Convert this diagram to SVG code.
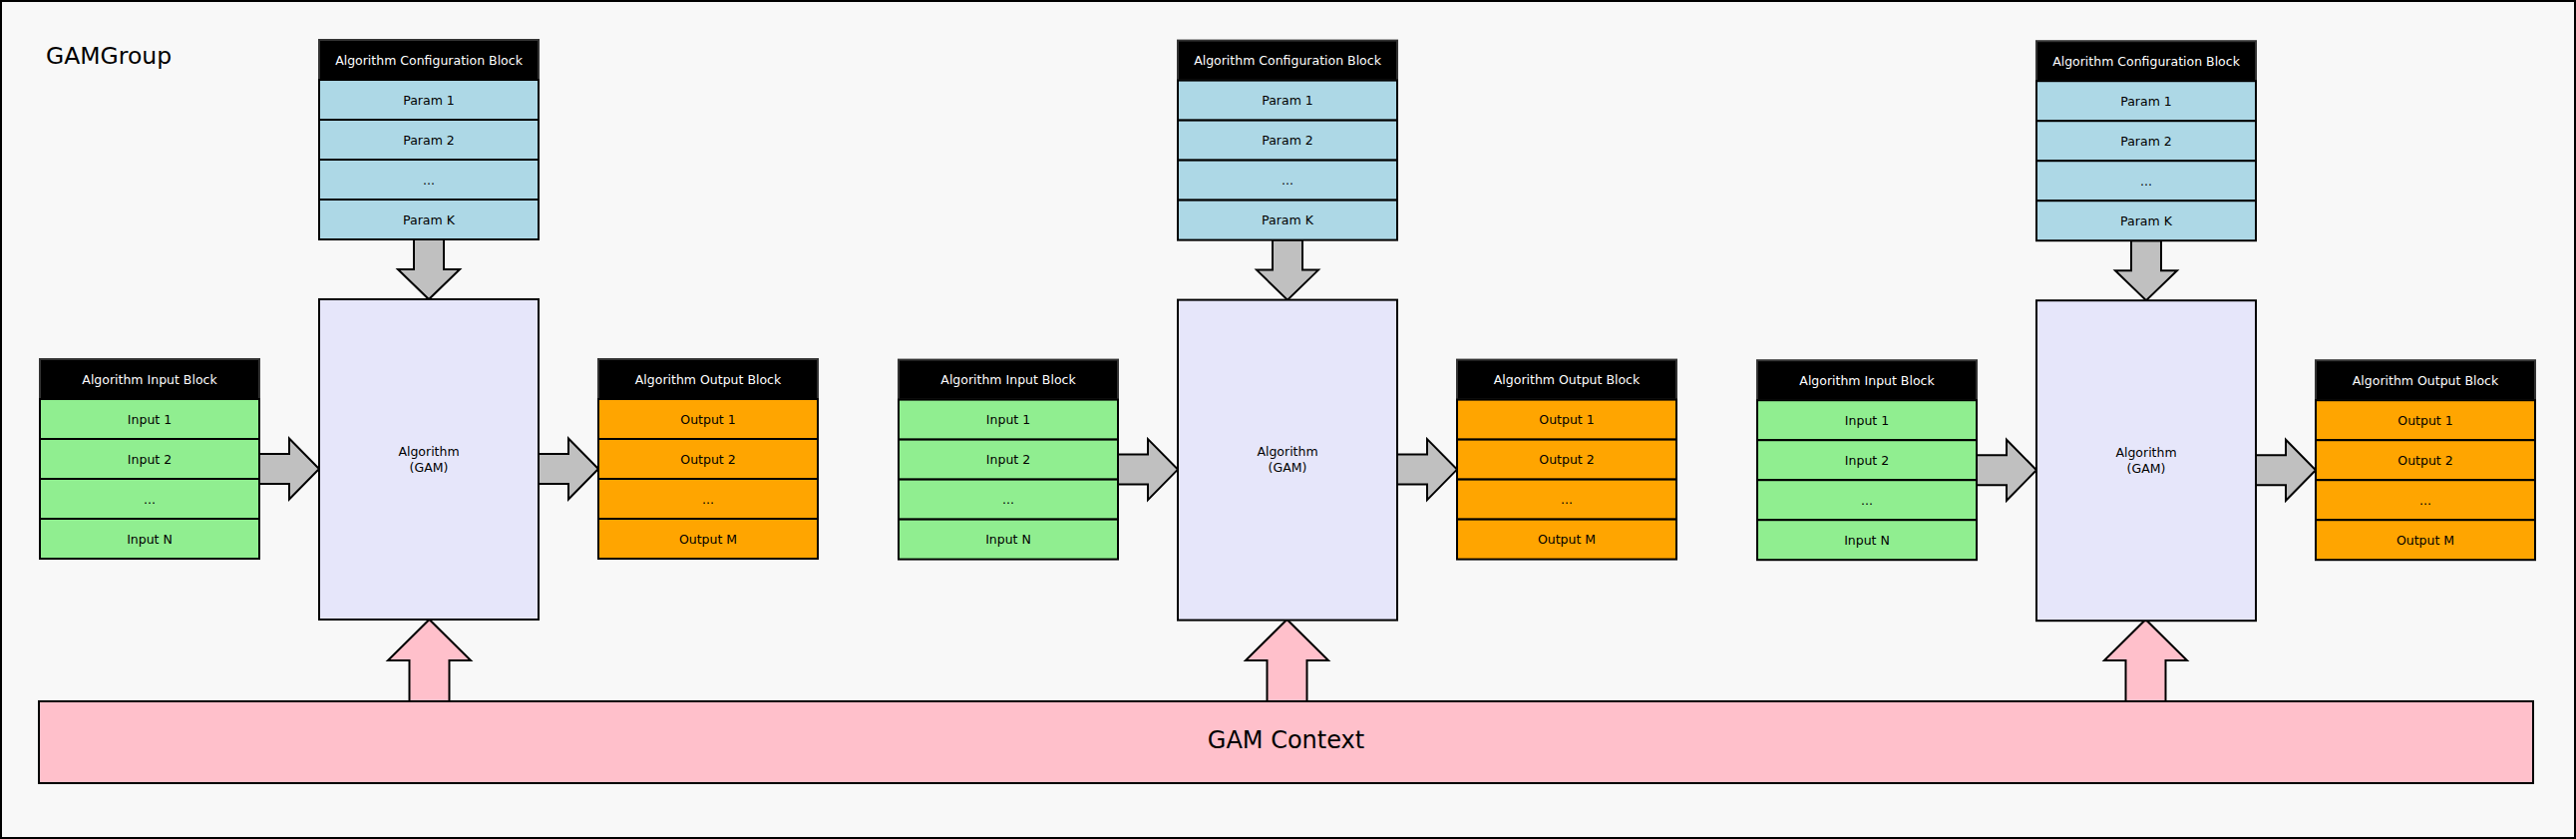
<svg xmlns="http://www.w3.org/2000/svg" width="2583" height="841" viewBox="0 0 2583 841">
<style>
text{font-family:"DejaVu Sans","Liberation Sans",sans-serif;text-anchor:middle;dominant-baseline:central}
.t{font-size:12.5px;fill:#000}
.h{fill:#000;stroke:#333;stroke-width:2}
.ht{font-size:12.5px;fill:#fff}
.cfg{fill:#add8e6;stroke:#000;stroke-width:2}
.in{fill:#90ee90;stroke:#000;stroke-width:2}
.out{fill:#ffa500;stroke:#000;stroke-width:2}
.alg{fill:#e6e6fa;stroke:#000;stroke-width:2}
.ctx{fill:#ffc0cb;stroke:#000;stroke-width:2}
.ga{fill:#c0c0c0;stroke:#000;stroke-width:2;stroke-linejoin:miter}
.pa{fill:#ffc0cb;stroke:#000;stroke-width:2;stroke-linejoin:miter}
</style>
<defs>
<g id="cfgBlock">
<rect class="h" x="320" y="40" width="220" height="40"/>
<text class="ht" x="430" y="60">Algorithm Configuration Block</text>
<rect class="cfg" x="320" y="80" width="220" height="40"/>
<text class="t" x="430" y="100">Param 1</text>
<rect class="cfg" x="320" y="120" width="220" height="40"/>
<text class="t" x="430" y="140">Param 2</text>
<rect class="cfg" x="320" y="160" width="220" height="40"/>
<text class="t" x="430" y="180">...</text>
<rect class="cfg" x="320" y="200" width="220" height="40"/>
<text class="t" x="430" y="220">Param K</text>
</g>
<g id="algBlock">
<rect class="alg" x="320" y="300" width="220" height="321"/>
<text class="t" x="430" y="452">Algorithm</text>
<text class="t" x="430" y="468">(GAM)</text>
</g>
<g id="inBlock">
<rect class="h" x="40" y="360" width="220" height="40"/>
<text class="ht" x="150" y="380">Algorithm Input Block</text>
<rect class="in" x="40" y="400" width="220" height="40"/>
<text class="t" x="150" y="420">Input 1</text>
<rect class="in" x="40" y="440" width="220" height="40"/>
<text class="t" x="150" y="460">Input 2</text>
<rect class="in" x="40" y="480" width="220" height="40"/>
<text class="t" x="150" y="500">...</text>
<rect class="in" x="40" y="520" width="220" height="40"/>
<text class="t" x="150" y="540">Input N</text>
</g>
<g id="outBlock">
<rect class="h" x="600" y="360" width="220" height="40"/>
<text class="ht" x="710" y="380">Algorithm Output Block</text>
<rect class="out" x="600" y="400" width="220" height="40"/>
<text class="t" x="710" y="420">Output 1</text>
<rect class="out" x="600" y="440" width="220" height="40"/>
<text class="t" x="710" y="460">Output 2</text>
<rect class="out" x="600" y="480" width="220" height="40"/>
<text class="t" x="710" y="500">...</text>
<rect class="out" x="600" y="520" width="220" height="40"/>
<text class="t" x="710" y="540">Output M</text>
</g>
<g id="arrows">
<polygon class="ga" points="415,240 445,240 445,270 461,270 430,300 399,270 415,270"/>
<polygon class="ga" points="260,455 290,455 290,439.5 320,470 290,500.5 290,485 260,485"/>
<polygon class="ga" points="540,455 570,455 570,439.5 600,470 570,500.5 570,485 540,485"/>
</g>
<polygon id="upArrow" class="pa" points="410.5,703 410.5,662 389,662 430.5,621 472,662 450.5,662 450.5,703"/>
</defs>
<rect x="1" y="1" width="2581" height="839" fill="#f8f8f8" stroke="#000" stroke-width="2"/>
<text x="46" y="56" style="font-size:23.5px;text-anchor:start">GAMGroup</text>
<g id="context">
<rect class="ctx" x="39" y="703" width="2501" height="82"/>
<text x="1289.5" y="742" style="font-size:24px">GAM Context</text>
</g>
<g id="connectors">
<use href="#arrows"/>
<use href="#arrows" transform="translate(861,0.6)"/>
<use href="#arrows" transform="translate(1722,1.2)"/>
<use href="#upArrow"/>
<use href="#upArrow" transform="translate(860,0)"/>
<use href="#upArrow" transform="translate(1721,0)"/>
</g>
<g id="config1"><use href="#cfgBlock"/></g>
<g id="algorithm1"><use href="#algBlock"/></g>
<g id="input1"><use href="#inBlock"/></g>
<g id="output1"><use href="#outBlock"/></g>
<g id="config2" transform="translate(861,0.6)"><use href="#cfgBlock"/></g>
<g id="algorithm2" transform="translate(861,0.6)"><use href="#algBlock"/></g>
<g id="input2" transform="translate(861,0.6)"><use href="#inBlock"/></g>
<g id="output2" transform="translate(861,0.6)"><use href="#outBlock"/></g>
<g id="config3" transform="translate(1722,1.2)"><use href="#cfgBlock"/></g>
<g id="algorithm3" transform="translate(1722,1.2)"><use href="#algBlock"/></g>
<g id="input3" transform="translate(1722,1.2)"><use href="#inBlock"/></g>
<g id="output3" transform="translate(1722,1.2)"><use href="#outBlock"/></g>
</svg>
